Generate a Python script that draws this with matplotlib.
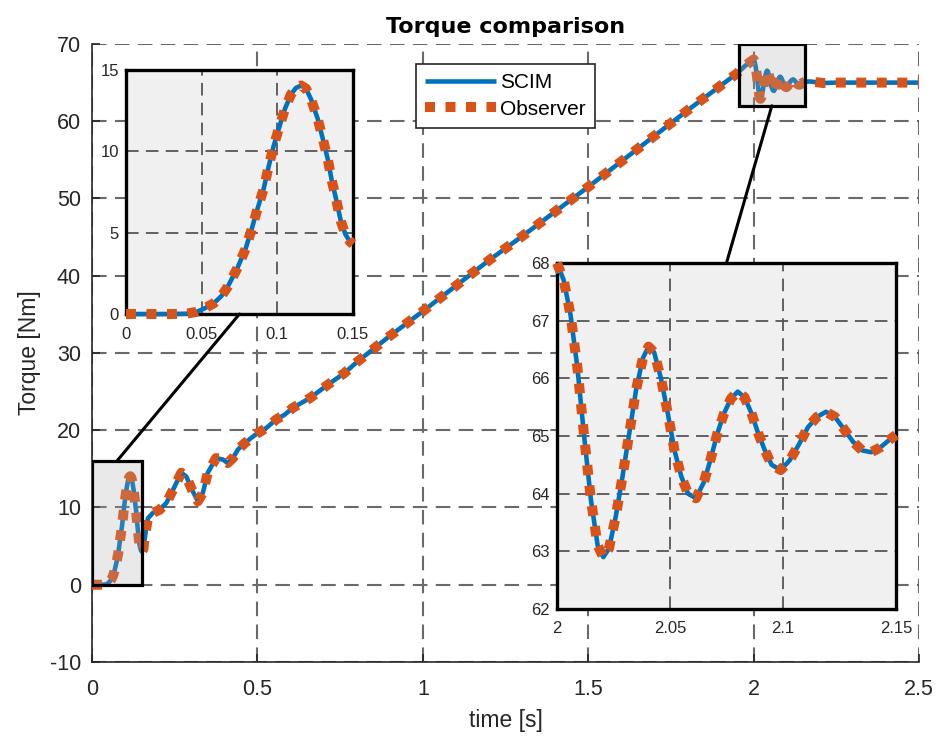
import matplotlib

matplotlib.use("Agg")
import matplotlib.pyplot as plt
import numpy as np
from matplotlib.patches import ConnectionPatch, Rectangle

plt.rcParams["font.family"] = ["Liberation Sans", "DejaVu Sans"]
plt.rcParams["axes.unicode_minus"] = False

# start-up transient (0 .. 0.15 s)
t_start = [0.0, 0.01, 0.02, 0.03, 0.04, 0.047, 0.052, 0.058, 0.063, 0.067,
           0.0735, 0.079, 0.083, 0.087, 0.091, 0.094, 0.0975, 0.101, 0.105,
           0.109, 0.1123, 0.1157, 0.119, 0.1223, 0.1267, 0.130, 0.1334, 0.136,
           0.139, 0.142, 0.145, 0.148, 0.15]
tq_start = [0.0, 0.0, 0.0, 0.0, 0.02, 0.14, 0.35, 0.66, 1.1, 1.64,
            2.8, 4.0, 5.2, 6.5, 7.7, 8.95, 10.3, 11.4, 12.6,
            13.5, 13.9, 14.05, 13.85, 13.2, 12.0, 10.8, 9.5, 8.2,
            7.0, 5.7, 4.9, 4.45, 4.3]

# load ramp (0.15 .. 2.0 s)
t_ramp = [0.155, 0.162, 0.169, 0.184, 0.204, 0.225, 0.245, 0.27, 0.285, 0.30,
          0.32, 0.335, 0.35, 0.375, 0.396, 0.41, 0.426, 0.441, 0.461, 0.481,
          0.50, 0.527, 0.557, 0.582, 0.607, 0.66, 0.713, 0.763, 0.8, 0.9, 1.0,
          1.1, 1.2, 1.3, 1.4, 1.5, 1.6, 1.7, 1.8, 1.9, 1.95, 1.975]
tq_ramp = [4.6, 6.8, 8.6, 9.3, 9.7, 10.6, 12.3, 14.5, 14.0, 12.5,
           10.8, 11.9, 14.5, 16.4, 16.2, 15.75, 16.4, 17.5, 18.3, 19.0,
           19.6, 20.3, 21.4, 22.0, 22.9, 24.2, 25.9, 27.4, 28.8, 32.2, 35.4,
           38.7, 42.0, 45.1, 48.3, 51.5, 54.8, 58.1, 61.4, 64.6, 66.2, 67.2]

# settling after the ramp (2.0 .. 2.15 s)
t_settle = [2.000, 2.003, 2.006, 2.009, 2.012, 2.015, 2.018, 2.0205, 2.023,
            2.026, 2.029, 2.032, 2.035, 2.038, 2.0405, 2.043, 2.046, 2.049,
            2.052, 2.055, 2.058, 2.0615, 2.065, 2.068, 2.071, 2.074, 2.077,
            2.080, 2.083, 2.086, 2.089, 2.092, 2.095, 2.099, 2.103, 2.107,
            2.111, 2.115, 2.119, 2.123, 2.127, 2.131, 2.135, 2.139, 2.143,
            2.147, 2.150]
tq_settle = [68.0, 67.7, 67.1, 66.2, 65.0, 63.9, 63.1, 62.9, 63.05,
             63.6, 64.3, 65.05, 65.8, 66.35, 66.55, 66.45, 66.0, 65.4,
             64.75, 64.3, 64.0, 63.92, 64.2, 64.6, 65.05, 65.4, 65.65,
             65.77, 65.67, 65.4, 65.05, 64.75, 64.5, 64.41, 64.58, 64.85,
             65.15, 65.33, 65.42, 65.33, 65.12, 64.9, 64.75, 64.72, 64.8,
             64.93, 65.02]

# steady state
t_tail = [2.155, 2.17, 2.19, 2.21, 2.25, 2.3, 2.4, 2.5]
tq_tail = [65.1, 65.15, 65.05, 64.95, 65.0, 65.0, 65.0, 65.0]

time = np.concatenate([t_start, t_ramp, t_settle, t_tail])
tq_scim = np.concatenate([tq_start, tq_ramp, tq_settle, tq_tail])
tq_observer = tq_scim.copy()

BLUE = "#0072BD"
ORANGE = "#D95319"
DARK = "#262626"
GRID = "#6a6a6a"


def draw_curves(ax, t, scim, obs, label=True):
    ax.plot(t, scim, color=BLUE, lw=3.3, solid_capstyle="butt",
            label="SCIM" if label else None, zorder=3)
    ax.plot(t, obs, color=ORANGE, lw=7.2, linestyle=(0, (1, 1.05)),
            dash_capstyle="butt", label="Observer" if label else None, zorder=4)


fig = plt.figure(figsize=(9.38, 7.38), dpi=100)
ax = fig.add_axes([0.0981, 0.1030, 0.8817, 0.8374])

draw_curves(ax, time, tq_scim, tq_observer)
ax.set_xlim(0, 2.5)
ax.set_ylim(-10, 70)
ax.set_xticks(np.arange(0, 2.51, 0.5))
ax.set_xticklabels(["0", "0.5", "1", "1.5", "2", "2.5"])
ax.set_yticks(np.arange(-10, 71, 10))
ax.grid(True, linestyle=(0, (7, 4)), color=GRID, lw=1.5)
ax.set_axisbelow(True)
for side in ["top", "right"]:
    ax.spines[side].set_visible(False)
for side in ["left", "bottom"]:
    ax.spines[side].set_color(DARK)
    ax.spines[side].set_linewidth(1.2)
ax.tick_params(direction="in", length=6, width=1.2, colors=DARK, labelsize=15.5)
ax.tick_params(axis="x", pad=12)
ax.tick_params(axis="y", pad=8)
ax.set_xlabel("time [s]", fontsize=16.5, color=DARK, labelpad=7)
ax.set_ylabel("Torque [Nm]", fontsize=16.5, color=DARK, labelpad=6)
ax.set_title("Torque comparison", fontsize=16, fontweight="bold",
             family="DejaVu Sans", color="black", pad=8)

leg = ax.legend(loc="upper left", bbox_to_anchor=(0.4435, 0.9133),
                bbox_transform=fig.transFigure, borderaxespad=0,
                fancybox=False, fontsize=15, handlelength=3.4,
                handletextpad=0.2, borderpad=0.45, labelspacing=0.35,
                framealpha=1)
leg.get_frame().set_edgecolor(DARK)
leg.get_frame().set_linewidth(1.2)

# zoom boxes on the main axes
zoom_boxes = [(0.0, 0.0, 0.15, 16.0), (1.955, 62.0, 0.2, 8.0)]
for x0, y0, w, h in zoom_boxes:
    ax.add_patch(Rectangle((x0, y0), w, h, facecolor=(0.66, 0.66, 0.66, 0.25),
                           edgecolor="black", lw=2.3, zorder=5))


def make_inset(rect, t, scim, xlim, ylim, xticks, xlabels, yticks):
    axi = fig.add_axes(rect)
    axi.set_facecolor("#F0F0F0")
    draw_curves(axi, t, scim, scim, label=False)
    for ln in axi.lines:
        ln.set_clip_on(False)
    axi.set_xlim(*xlim)
    axi.set_ylim(*ylim)
    axi.set_xticks(xticks)
    axi.set_xticklabels(xlabels)
    axi.set_yticks(yticks)
    axi.grid(True, linestyle=(0, (7, 4)), color="#555555", lw=1.3)
    axi.set_axisbelow(True)
    for sp in axi.spines.values():
        sp.set_color("black")
        sp.set_linewidth(2.4)
    axi.tick_params(length=0, colors=DARK, labelsize=12)
    axi.tick_params(axis="x", pad=9)
    axi.tick_params(axis="y", pad=5)
    return axi


ax_in1 = make_inset([0.1343, 0.5745, 0.2420, 0.3306], t_start, tq_start,
                    (0, 0.15), (0, 15), [0, 0.05, 0.1, 0.15],
                    ["0", "0.05", "0.1", "0.15"], [0, 5, 10, 15])
ax_in2 = make_inset([0.5938, 0.1748, 0.3614, 0.4688], t_settle, tq_settle,
                    (2.0, 2.15), (62, 68), [2.0, 2.05, 2.1, 2.15],
                    ["2", "2.05", "2.1", "2.15"], np.arange(62, 69, 1))

# leader lines from the zoom boxes to the insets
for axi, corner_a, corner_b in [
    (ax_in1, (0.5, 0.0), (0.075, 16.0)),
    (ax_in2, (0.5, 1.0), (2.055, 62.0)),
]:
    con = ConnectionPatch(xyA=corner_a, coordsA=axi.transAxes,
                          xyB=corner_b, coordsB=ax.transData,
                          color="black", lw=2.2)
    fig.add_artist(con)

fig.savefig("out.png", dpi=100)
